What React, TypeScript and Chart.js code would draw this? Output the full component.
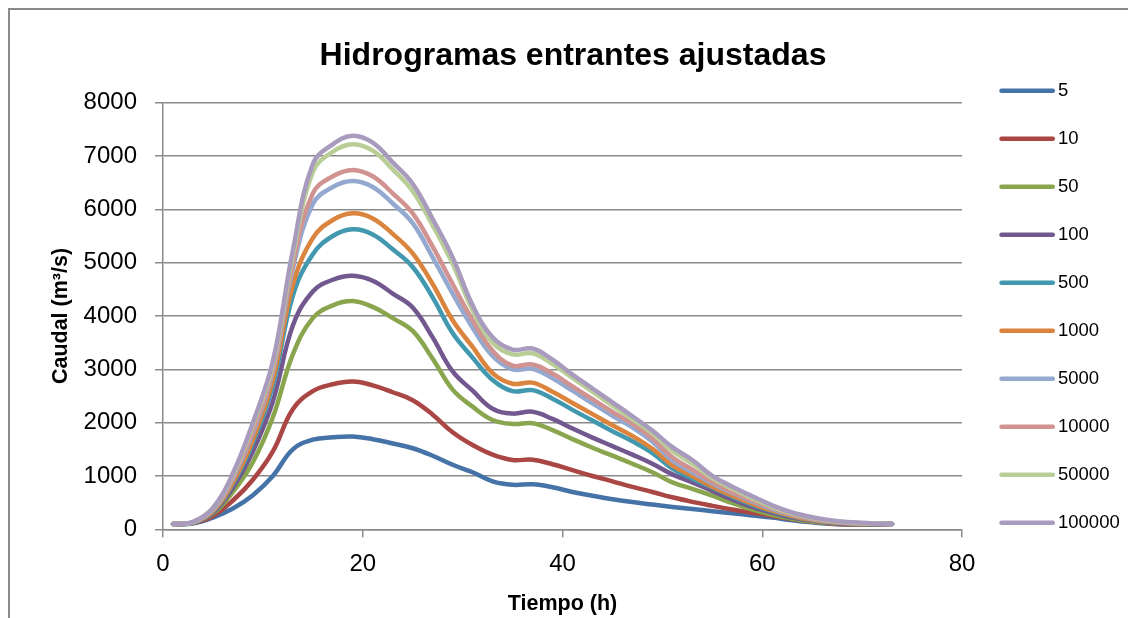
import React, { useEffect, useRef } from 'react';
import { Chart, registerables } from 'chart.js';

Chart.register(...registerables);

const TIME = [1, 3, 5, 7, 9, 11, 13, 15, 17, 19, 21, 23, 25, 27, 29, 31, 33, 35, 37, 39, 41, 43, 45, 47, 49, 51, 53, 55, 57, 59, 61, 63, 65, 67, 69, 71, 73];

const SERIES_LABELS = ['5', '10', '50', '100', '500', '1000', '5000', '10000', '50000', '100000'];

const Q5 = [100, 110, 220, 390, 640, 1000, 1500, 1680, 1725, 1740, 1690, 1610, 1520, 1380, 1210, 1070, 900, 835, 845, 790, 700, 630, 565, 510, 465, 420, 380, 340, 300, 260, 220, 170, 130, 100, 90, 90, 100];
const Q10 = [100, 115, 250, 540, 930, 1460, 2250, 2590, 2720, 2770, 2700, 2570, 2420, 2150, 1820, 1580, 1400, 1300, 1305, 1220, 1110, 1000, 900, 795, 700, 600, 515, 440, 370, 310, 250, 190, 140, 105, 90, 90, 100];
const Q50 = [100, 118, 290, 700, 1260, 2100, 3280, 3960, 4200, 4280, 4170, 3960, 3720, 3200, 2620, 2300, 2050, 1975, 1990, 1860, 1690, 1530, 1380, 1230, 1070, 880, 760, 630, 490, 370, 270, 195, 140, 110, 95, 95, 100];
const Q100 = [100, 120, 310, 780, 1460, 2400, 3820, 4460, 4680, 4755, 4660, 4420, 4160, 3600, 2960, 2600, 2260, 2170, 2205, 2070, 1890, 1720, 1560, 1400, 1230, 1030, 880, 720, 560, 420, 310, 220, 160, 120, 100, 98, 100];
const Q500 = [100, 122, 330, 850, 1620, 2700, 4380, 5160, 5500, 5625, 5530, 5250, 4920, 4350, 3680, 3220, 2800, 2590, 2610, 2450, 2240, 2040, 1840, 1650, 1430, 1140, 950, 780, 610, 460, 340, 240, 170, 130, 110, 101, 100];
const Q1000 = [100, 125, 340, 880, 1680, 2800, 4580, 5460, 5800, 5925, 5830, 5540, 5175, 4600, 3920, 3420, 2930, 2730, 2750, 2580, 2370, 2160, 1950, 1750, 1510, 1200, 1000, 800, 630, 480, 350, 250, 175, 130, 110, 102, 100];
const Q5000 = [100, 130, 360, 950, 1800, 2950, 4880, 6100, 6420, 6530, 6420, 6110, 5740, 5100, 4420, 3780, 3250, 3000, 3010, 2830, 2600, 2360, 2130, 1910, 1640, 1290, 1070, 860, 680, 520, 380, 270, 190, 140, 115, 104, 100];
const Q10000 = [100, 132, 370, 980, 1850, 3000, 4980, 6300, 6620, 6740, 6620, 6300, 5925, 5300, 4600, 3920, 3350, 3070, 3090, 2920, 2680, 2440, 2200, 1980, 1700, 1350, 1120, 890, 700, 540, 400, 280, 195, 145, 118, 105, 100];
const Q50000 = [100, 136, 390, 1020, 1950, 3080, 5130, 6700, 7080, 7220, 7100, 6750, 6340, 5700, 4980, 4110, 3500, 3280, 3300, 3100, 2840, 2580, 2320, 2060, 1800, 1470, 1230, 960, 760, 580, 420, 295, 210, 155, 125, 107, 100];
const Q100000 = [100, 140, 400, 1050, 2000, 3150, 5230, 6850, 7220, 7380, 7250, 6880, 6480, 5820, 5100, 4200, 3600, 3370, 3390, 3180, 2900, 2640, 2380, 2120, 1850, 1540, 1300, 1000, 800, 620, 450, 315, 225, 165, 130, 110, 100];

const COLORS = ['#4572A7', '#AA4643', '#89A54E', '#71588F', '#4198AF', '#DB843D', '#93A9CF', '#D19392', '#B9CD96', '#A99BBD'];

const FONT = 'Liberation Sans';
const GRID = '#8a8a8a';

const sideLegend = {
  id: 'sideLegend',
  afterDraw(chart: any) {
    const ctx = chart.ctx;
    const top = 80.7;
    const step = 48;
    const x1 = 991.5;
    const x2 = 1042.8;
    const tx = 1048;
    ctx.save();
    chart.data.datasets.forEach((ds: any, i: number) => {
      const y = top + i * step;
      ctx.strokeStyle = ds.borderColor;
      ctx.lineWidth = 4.5;
      ctx.lineCap = 'round';
      ctx.beginPath();
      ctx.moveTo(x1, y);
      ctx.lineTo(x2, y);
      ctx.stroke();
      ctx.fillStyle = '#000';
      ctx.font = `18.5px "${FONT}"`;
      ctx.textBaseline = 'middle';
      ctx.textAlign = 'left';
      ctx.fillText(ds.label, tx, y);
    });
    ctx.restore();
  },
};

export default function App() {
  const ref = useRef<HTMLCanvasElement>(null);

  useEffect(() => {
    document.documentElement.style.overflow = 'hidden';
    document.body.style.overflow = 'hidden';
    const series = [Q5, Q10, Q50, Q100, Q500, Q1000, Q5000, Q10000, Q50000, Q100000];
    const chart = new Chart(ref.current as HTMLCanvasElement, {
      type: 'line',
      data: {
        datasets: series.map((s, i) => ({
          label: SERIES_LABELS[i],
          data: TIME.map((t, j) => ({ x: t, y: s[j] })),
          borderColor: COLORS[i],
          backgroundColor: COLORS[i],
          borderWidth: 4.5,
          pointRadius: 0,
          tension: 0.4,
          borderCapStyle: 'round',
          borderJoinStyle: 'round',
          fill: false,
          order: series.length - 1 - i,
        })),
      },
      options: {
        responsive: false,
        devicePixelRatio: 1,
        animation: false,
        events: [],
        layout: { padding: 0 },
        plugins: {
          legend: { display: false },
          tooltip: { enabled: false },
          title: {
            display: true,
            text: 'Hidrogramas entrantes ajustadas',
            font: { family: FONT, size: 32, weight: 'bold' },
            color: '#000',
            padding: { top: 26.5, bottom: 27.8 },
          },
        },
        scales: {
          x: {
            type: 'linear',
            min: 0,
            max: 80,
            ticks: { stepSize: 20, font: { family: FONT, size: 24 }, color: '#000', padding: 13, maxRotation: 0 },
            grid: { drawOnChartArea: false, drawTicks: true, tickLength: 8, color: GRID, lineWidth: 1.5 },
            border: { color: GRID, width: 1.5 },
            title: {
              display: true,
              text: 'Tiempo (h)',
              font: { family: FONT, size: 21.5, weight: 'bold' },
              color: '#000',
              padding: { top: 0, bottom: 1.4 },
            },
            afterFit: (s: any) => {
              s.height = 88.7;
            },
          },
          y: {
            min: 0,
            max: 8000,
            ticks: {
              stepSize: 1000,
              font: { family: FONT, size: 24 },
              color: '#000',
              padding: 18,
              callback: (v: any) => String(v),
            },
            grid: { color: GRID, lineWidth: 1.5, tickLength: 8 },
            border: { color: GRID, width: 1.5 },
            title: {
              display: true,
              text: 'Caudal (m³/s)',
              font: { family: FONT, size: 21.5, weight: 'bold' },
              color: '#000',
              padding: { top: 38, bottom: 0 },
            },
            afterFit: (s: any) => {
              s.width = 153;
            },
          },
          legendSpace: {
            type: 'linear',
            position: 'right',
            display: true,
            ticks: { display: false },
            grid: { display: false, drawTicks: false },
            border: { display: false },
            afterFit: (s: any) => {
              s.width = 174;
            },
          },
        },
      } as any,
      plugins: [sideLegend],
    });
    return () => chart.destroy();
  }, []);

  return (
    <div style={{ borderTop: `2px solid ${GRID}`, borderLeft: `2px solid ${GRID}`, width: 1126, height: 608 }}>
      <canvas ref={ref} width={1126} height={608} style={{ display: 'block' }} />
    </div>
  );
}
